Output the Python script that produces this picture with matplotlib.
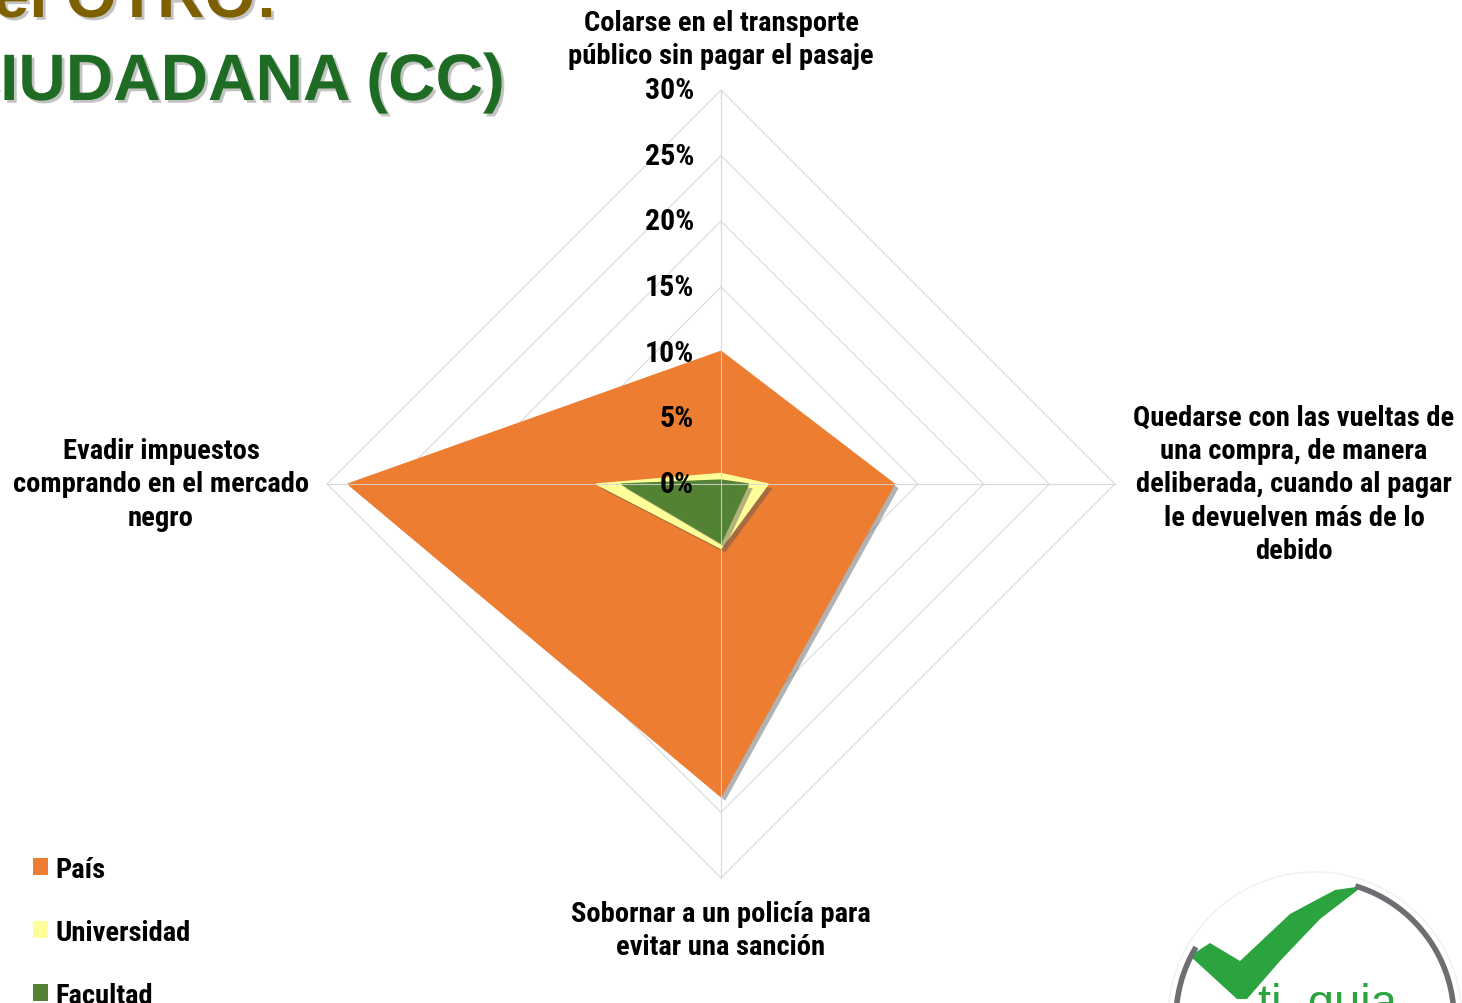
import numpy as np
import matplotlib
matplotlib.use("Agg")
import matplotlib.pyplot as plt
import matplotlib.patheffects as pe
from matplotlib.patches import Patch, Polygon
from matplotlib import font_manager as fm

# data (percent)
categorias = ["Colarse en el transporte\npúblico sin pagar el pasaje",
              "Quedarse con las vueltas de\nuna compra, de manera\ndeliberada, cuando al pagar\nle devuelven más de lo\ndebido",
              "Sobornar a un policía para\nevitar una sanción",
              "Evadir impuestos\ncomprando en el mercado\nnegro"]
pais = [10.1, 13.2, 23.8, 28.4]
universidad = [0.8, 3.6, 4.9, 9.5]
facultad = [0.3, 2.1, 4.5, 7.6]
niveles = [0, 5, 10, 15, 20, 25, 30]
series = ["País", "Universidad", "Facultad"]
colores = ["#ED7D31", "#FFFF99", "#548235"]

# narrow bold font like Arial Narrow, if there is one
bold_fams = set(f.name for f in fm.fontManager.ttflist
                if (isinstance(f.weight, int) and f.weight >= 700) or f.weight == "bold")
narrow = None
for cand in ["Liberation Sans Narrow", "Arial Narrow", "Roboto Condensed", "PT Sans Narrow",
             "Archivo Narrow", "Open Sans Condensed"]:
    if cand in bold_fams:
        narrow = cand
        break
if narrow:
    FONT = [narrow, "DejaVu Sans"]
    fs = 20.5
    fs_tick = 21.5
else:
    FONT = ["Liberation Sans", "DejaVu Sans"]
    fs = 15
    fs_tick = 15
plt.rcParams["font.family"] = FONT

W, H = 1462, 1004
cx, cy = 721, 485          # center in px
ppu = 394 / 30.0           # px per percent

fig = plt.figure(figsize=(W / 100, H / 100), dpi=100)
ax = fig.add_axes([0, 0, 1, 1])
ax.set_xlim(-cx / ppu, (W - cx) / ppu)
ax.set_ylim(-(H - cy) / ppu, cy / ppu)
ax.axis("off")

n = len(categorias)
ang = np.pi / 2 - np.arange(n) * 2 * np.pi / n

def xy(vals):
    v = np.asarray(vals, dtype=float)
    return v * np.cos(ang), v * np.sin(ang)

# grid
for lv in niveles[1:]:
    gx, gy = xy([lv] * n)
    ax.fill(gx, gy, facecolor="none", edgecolor="#d9d9d9", lw=0.8, zorder=1)
for a in ang:
    ax.plot([0, 30 * np.cos(a)], [0, 30 * np.sin(a)], color="#d9d9d9", lw=0.8, zorder=1)

# series
sombra = [pe.SimplePatchShadow(offset=(3, -3), shadow_rgbFace="#555555", alpha=0.45), pe.Normal()]
for i, (nombre, vals) in enumerate(zip(series, [pais, universidad, facultad])):
    px_, py_ = xy(vals)
    p = ax.fill(px_, py_, color=colores[i], zorder=2 + i, label=nombre)[0]
    p.set_path_effects(sombra)

# spokes over the fills
for a in ang:
    ax.plot([0, 30 * np.cos(a)], [0, 30 * np.sin(a)], color="#d9d9d9", lw=0.8, zorder=6, alpha=0.8)

# tick labels
for lv in niveles:
    ax.text(-27 / ppu, lv, f"{lv}%", ha="right", va="center", fontsize=fs_tick,
            fontweight="bold", zorder=7)

# category labels
ls = 1.3
ax.text(0, (cy - 40) / ppu, categorias[0], ha="center", va="center", fontsize=fs,
        fontweight="bold", linespacing=ls)
ax.text((1294 - cx) / ppu, 0, categorias[1], ha="center", va="center", fontsize=fs,
        fontweight="bold", linespacing=ls)
ax.text(0, -(931 - cy) / ppu, categorias[2], ha="center", va="center", fontsize=fs,
        fontweight="bold", linespacing=ls)
ax.text((161 - cx) / ppu, 0, categorias[3], ha="center", va="center", fontsize=fs,
        fontweight="bold", linespacing=ls)

# legend
handles = [Patch(facecolor=c, edgecolor="none") for c in colores]
leg = fig.legend(handles, series, loc="upper left", bbox_to_anchor=(7 / W, 1 - 831 / H),
                 frameon=False, prop={"family": FONT, "weight": "bold", "size": fs},
                 handlelength=0.55, handleheight=0.55, handletextpad=0.25, labelspacing=1.27)

# title (cropped slide header)
tsh = [pe.withSimplePatchShadow(offset=(2, -2), shadow_rgbFace="#888888", alpha=0.5)]
fig.text(278 / W, 1 - 18 / H, "del OTRO:", ha="right", va="baseline", fontsize=47.3,
         fontweight="bold", color="#7F6000", family=["Liberation Sans", "DejaVu Sans"],
         path_effects=tsh)
fig.text(505 / W, 1 - 101 / H, "CIUDADANA (CC)", ha="right", va="baseline", fontsize=47.3,
         fontweight="bold", color="#1E6B24", family=["Liberation Sans", "DejaVu Sans"],
         path_effects=tsh)

# logo in the lower right corner
deco = fig.add_axes([0, 0, 1, 1], zorder=-1)
deco.set_xlim(0, W)
deco.set_ylim(H, 0)
deco.axis("off")
lx, ly, lr = 1315, 1020, 139
t = np.linspace(0, 2 * np.pi, 200)
deco.plot(lx + (lr + 8) * np.cos(t), ly - (lr + 8) * np.sin(t), color="#f0f0f0", lw=1)
t1 = np.radians(np.linspace(-5, 72, 80))
deco.plot(lx + lr * np.cos(t1), ly - lr * np.sin(t1), color="#6D6E71", lw=4)
t2 = np.radians(np.linspace(150, 190, 40))
deco.plot(lx + lr * np.cos(t2), ly - lr * np.sin(t2), color="#6D6E71", lw=4)
check = [(1190, 957), (1210, 944), (1240, 962), (1290, 915), (1335, 891), (1363, 887),
         (1320, 920), (1280, 962), (1247, 1000), (1237, 1000)]
deco.add_patch(Polygon(check, closed=True, facecolor="#2BA33E", edgecolor="none"))
deco.text(1258, 983, "ti  quia", ha="left", va="top", fontsize=34, color="#2BA33E",
          family=["Liberation Sans", "DejaVu Sans"])

fig.savefig("out.png", dpi=100)
